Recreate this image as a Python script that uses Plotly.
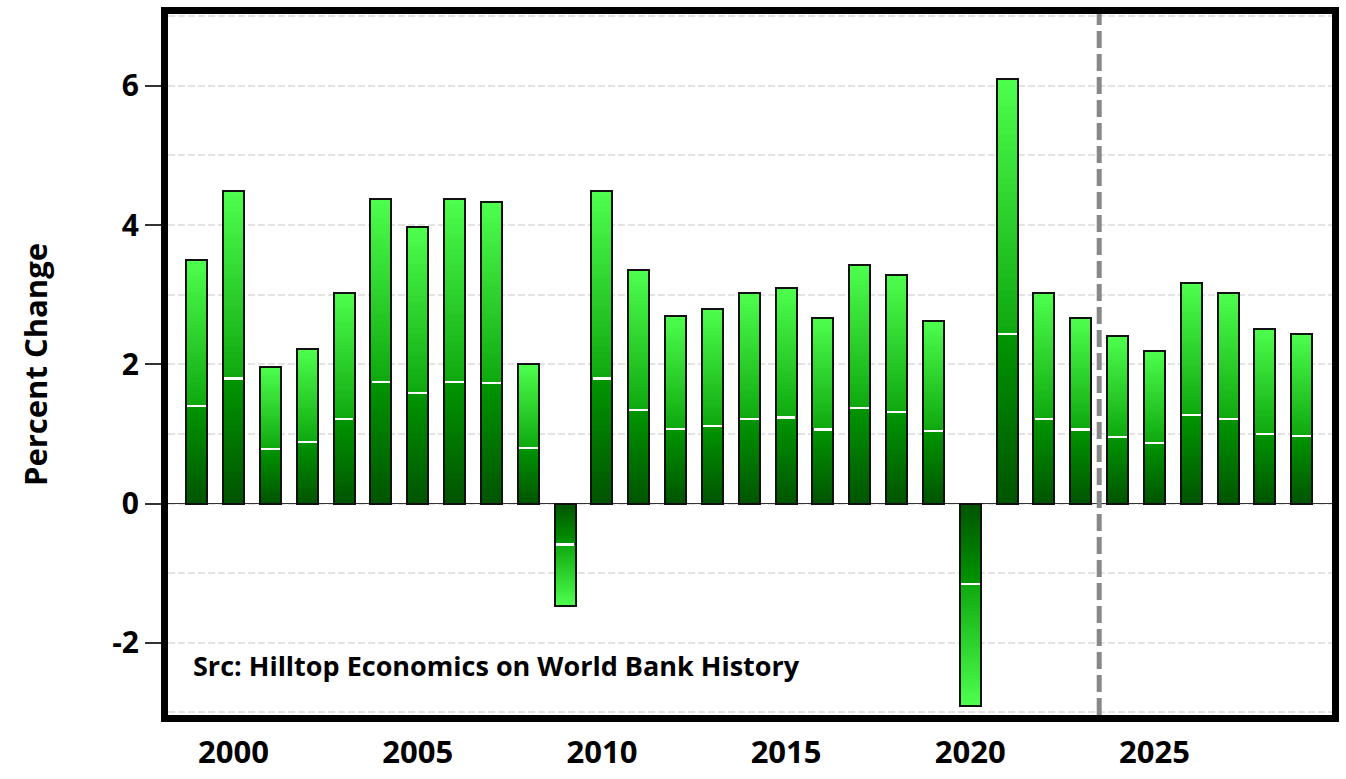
import plotly.graph_objects as go

years = list(range(1999, 2030))
growth = [3.50, 4.49, 1.96, 2.22, 3.03, 4.38, 3.97, 4.38, 4.33, 2.00,
          -1.47, 4.49, 3.35, 2.69, 2.80, 3.02, 3.09, 2.66, 3.43, 3.28,
          2.62, -2.90, 6.10, 3.02, 2.66, 2.40, 2.19, 3.17, 3.02, 2.51,
          2.44]
tick_years = [2000, 2005, 2010, 2015, 2020, 2025]
y_ticks = [-2, 0, 2, 4, 6]
forecast_start = 2023.5
source_text = "Src: Hilltop Economics on World Bank History"

FONT = "Open Sans"
BAR_W = 0.57
N = 60
SPLIT = 0.4


def lerp(c1, c2, t):
    return tuple(round(a + (b - a) * t) for a, b in zip(c1, c2))


def grad_color(f):
    # f: fraction of bar height from the baseline (0) to the tip (1)
    if f > SPLIT:
        t = (f - SPLIT) / (1 - SPLIT)
        c = lerp((14, 168, 14), (78, 255, 78), t)
    else:
        t = f / SPLIT
        c = lerp((0, 84, 0), (0, 150, 0), t)
    return "rgb(%d,%d,%d)" % c


fig = go.Figure()

# gradient: draw from full height down to shorter bars (each from 0)
for k in range(N, 0, -1):
    f = k / N
    fig.add_trace(go.Bar(
        x=years, y=[v * f for v in growth], base=0, width=BAR_W,
        marker=dict(color=grad_color(f - 0.5 / N), line=dict(width=0)),
        hoverinfo="skip", showlegend=False))

# white highlight line at 40% of bar height
fig.add_trace(go.Bar(
    x=years, y=[0.03 if v > 0 else -0.03 for v in growth],
    base=[v * SPLIT - (0.015 if v > 0 else -0.015) for v in growth],
    width=BAR_W - 0.06,
    marker=dict(color="white", line=dict(width=0)),
    hoverinfo="skip", showlegend=False))

# outline
fig.add_trace(go.Bar(
    x=years, y=growth, base=0, width=BAR_W,
    marker=dict(color="rgba(0,0,0,0)", line=dict(color="#111111", width=2)),
    showlegend=False))

fig.add_shape(type="line", xref="x", yref="paper",
              x0=forecast_start, x1=forecast_start, y0=0, y1=1,
              line=dict(color="#888888", width=5, dash="17px,6px"),
              layer="above")

fig.add_annotation(text="<b>" + source_text + "</b>", xref="paper", yref="paper",
                   x=0.02, y=0.07, xanchor="left", yanchor="middle",
                   showarrow=False, font=dict(family=FONT, size=27, color="black"))

fig.update_layout(
    width=1346, height=779,
    margin=dict(l=168, r=7, t=13, b=63),
    barmode="overlay",
    bargap=0,
    plot_bgcolor="white", paper_bgcolor="white",
    font=dict(family=FONT, color="black"),
    showlegend=False,
)

fig.update_xaxes(
    range=[1998.22, 2029.82],
    tickmode="array", tickvals=tick_years,
    ticktext=["<b>%d</b>" % t for t in tick_years],
    tickfont=dict(family=FONT, size=31, color="black"),
    ticks="", ticklabelstandoff=4, showgrid=False, zeroline=False,
    showline=True, mirror=True, linecolor="black", linewidth=7,
)

fig.update_yaxes(
    range=[-3.036, 7.03],
    tickmode="array", tickvals=y_ticks,
    ticktext=["<b>%d</b>" % t for t in y_ticks],
    tickfont=dict(family=FONT, size=30, color="black"),
    ticks="outside", ticklen=16, tickwidth=1.5, tickcolor="#333333",
    showgrid=True, gridcolor="#e3e3e3", gridwidth=2, griddash="7px,3px",
    minor=dict(dtick=1, tick0=0, showgrid=True, gridcolor="#e3e3e3",
               gridwidth=2, griddash="7px,3px", ticks=""),
    zeroline=True, zerolinecolor="#333333", zerolinewidth=1,
    showline=True, mirror=True, linecolor="black", linewidth=7,
    title=dict(text="<b>Percent Change</b>", font=dict(family=FONT, size=31, color="black"),
               standoff=58),
)

fig.write_html("out.html")
